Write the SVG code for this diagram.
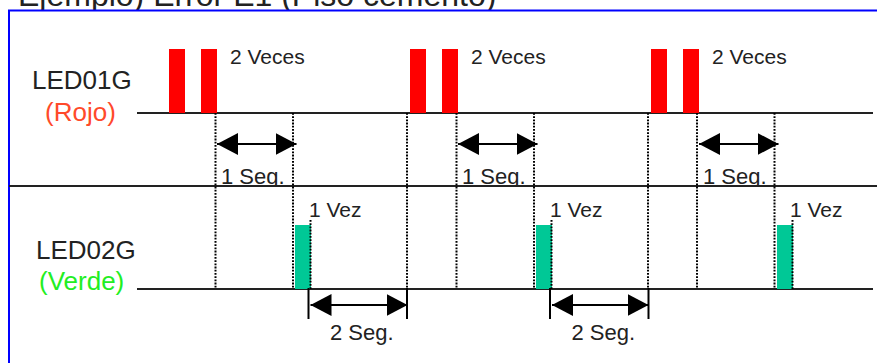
<svg xmlns="http://www.w3.org/2000/svg" width="877" height="363" viewBox="0 0 877 363">
<style>
  text { font-family: "Liberation Sans", Arial, sans-serif; fill: #222; }
  .title { font-size: 32px; }
  .lane { font-size: 26px; }
  .lbl { font-size: 21px; }
  .seg { font-size: 22px; }
  .base { stroke: #222; stroke-width: 2; fill: none; }
  .dot { stroke: #000; stroke-width: 2; stroke-dasharray: 1.8 1.4; fill: none; }
  .dim { stroke: #000; stroke-width: 2.2; fill: none; }
  .brk { stroke: #000; stroke-width: 2; fill: none; }
  .red { fill: #FF0000; }
  .green { fill: #00C896; }
</style>
<defs>
  <marker id="ah" viewBox="0 0 21 22" refX="21" refY="11" markerWidth="21" markerHeight="22" markerUnits="userSpaceOnUse" orient="auto-start-reverse">
    <path d="M0,0 L21,11 L0,22 Z" fill="#000"/>
  </marker>
  <clipPath id="topclip"><rect x="0" y="0" width="877" height="185"/></clipPath>
</defs>
<rect x="0" y="0" width="877" height="363" fill="#fff"/>
<g id="title">
  <text class="title" x="18" y="6">Ejemplo) Error E1 (Piso cemento)</text>
</g>
<g id="frame">
  <rect x="9" y="10.5" width="900" height="400" fill="#fff" stroke="#0000FF" stroke-width="2"/>
  <line class="base" x1="9" y1="186" x2="877" y2="186"/>
</g>
<g id="lane-led01">
  <text class="lane" x="32" y="89">LED01G</text>
  <text class="lane" x="45" y="121" style="fill:#FF4A2A">(Rojo)</text>
  <line class="base" x1="137" y1="113" x2="873" y2="113"/>
  <rect class="red" x="169" y="49" width="16" height="64"/>
  <rect class="red" x="201" y="49" width="16" height="64"/>
  <rect class="red" x="410" y="49" width="16" height="64"/>
  <rect class="red" x="442" y="49" width="16" height="64"/>
  <rect class="red" x="651" y="49" width="16" height="64"/>
  <rect class="red" x="683" y="49" width="16" height="64"/>
  <text class="lbl" x="230" y="64">2 Veces</text>
  <text class="lbl" x="471" y="64">2 Veces</text>
  <text class="lbl" x="712" y="64">2 Veces</text>
</g>
<g id="lane-led02">
  <text class="lane" x="36" y="259">LED02G</text>
  <text class="lane" x="39" y="290" style="fill:#22EE22">(Verde)</text>
  <line class="base" x1="137" y1="289" x2="873" y2="289"/>
  <rect class="green" x="295" y="225" width="16" height="64"/>
  <rect class="green" x="536" y="225" width="16" height="64"/>
  <rect class="green" x="777" y="225" width="16" height="64"/>
  <text class="lbl" x="309" y="217">1 Vez</text>
  <text class="lbl" x="550" y="217">1 Vez</text>
  <text class="lbl" x="790" y="217">1 Vez</text>
</g>
<g id="connectors">
  <g id="guides">
    <line class="dot" x1="215.5" y1="113" x2="215.5" y2="289"/>
    <line class="dot" x1="293" y1="113" x2="293" y2="289"/>
    <line class="dot" x1="407" y1="113" x2="407" y2="289"/>
    <line class="dot" x1="456.5" y1="113" x2="456.5" y2="289"/>
    <line class="dot" x1="534" y1="113" x2="534" y2="289"/>
    <line class="dot" x1="648" y1="113" x2="648" y2="289"/>
    <line class="dot" x1="697" y1="113" x2="697" y2="289"/>
    <line class="dot" x1="774.5" y1="113" x2="774.5" y2="289"/>
    <line class="dot" x1="310.5" y1="220" x2="310.5" y2="289"/>
    <line class="dot" x1="551.5" y1="220" x2="551.5" y2="289"/>
    <line class="dot" x1="792.5" y1="220" x2="792.5" y2="289"/>
  </g>
  <g id="dim-1seg">
    <line class="dim" x1="217" y1="144" x2="296.5" y2="144" marker-start="url(#ah)" marker-end="url(#ah)"/>
    <line class="dim" x1="458" y1="144" x2="537.5" y2="144" marker-start="url(#ah)" marker-end="url(#ah)"/>
    <line class="dim" x1="699" y1="144" x2="778.5" y2="144" marker-start="url(#ah)" marker-end="url(#ah)"/>
    <g clip-path="url(#topclip)">
      <text class="seg" x="221" y="184">1 Seg.</text>
      <text class="seg" x="462" y="184">1 Seg.</text>
      <text class="seg" x="703" y="184">1 Seg.</text>
    </g>
  </g>
  <g id="dim-2seg">
    <line class="brk" x1="308.5" y1="288" x2="308.5" y2="319"/>
    <line class="brk" x1="407" y1="288" x2="407" y2="319"/>
    <line class="dim" x1="310.5" y1="305" x2="407.5" y2="305" marker-start="url(#ah)" marker-end="url(#ah)"/>
    <text class="seg" x="330" y="340">2 Seg.</text>
    <line class="brk" x1="550" y1="288" x2="550" y2="319"/>
    <line class="brk" x1="648.5" y1="288" x2="648.5" y2="319"/>
    <line class="dim" x1="552" y1="305" x2="648.5" y2="305" marker-start="url(#ah)" marker-end="url(#ah)"/>
    <text class="seg" x="571.5" y="340">2 Seg.</text>
  </g>
</g>
</svg>
